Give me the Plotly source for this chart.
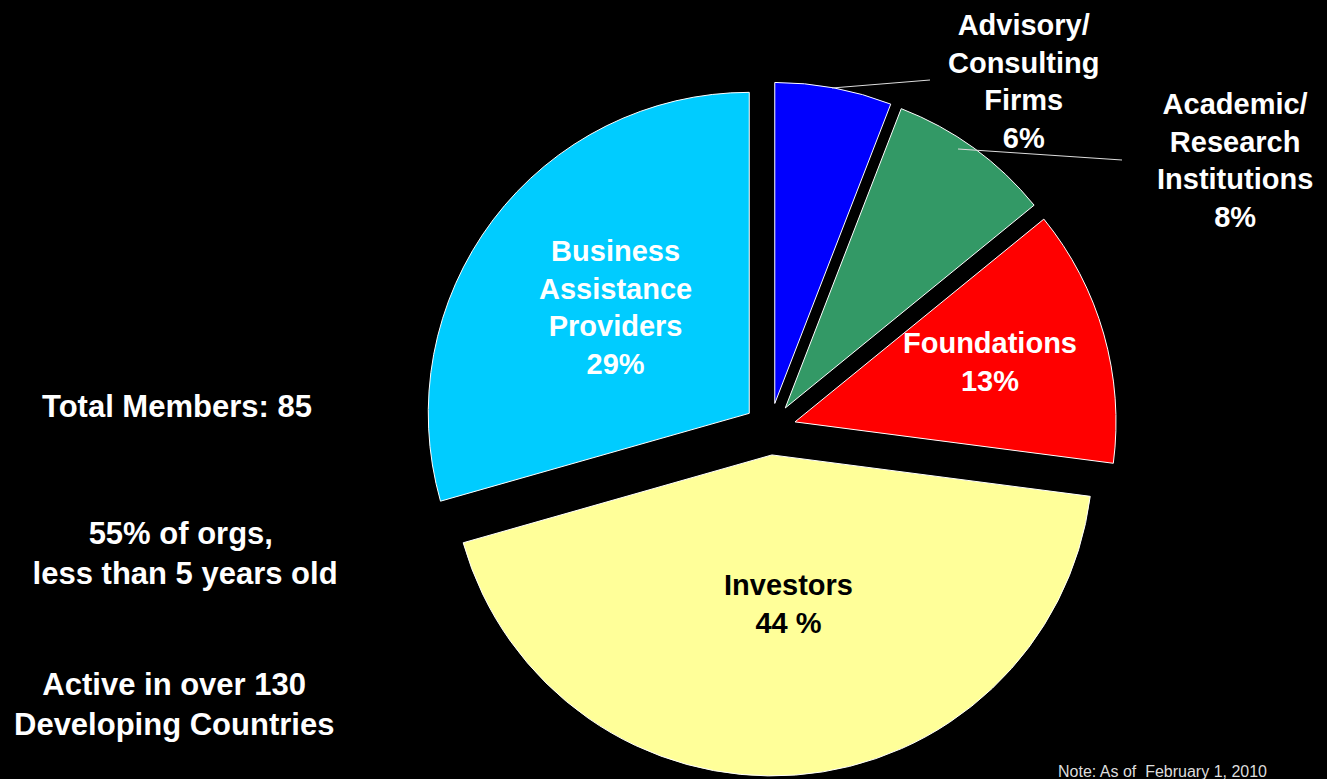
import plotly.graph_objects as go

# ---- data ----
categories = ["Advisory/<br>Consulting<br>Firms", "Academic/<br>Research<br>Institutions",
              "Foundations", "Investors", "Business<br>Assistance<br>Providers"]
members = [5, 7, 11, 37, 25]          # total 85
pct_text = ["6%", "8%", "13%", "44 %", "29%"]
slice_colors = ["#0000FF", "#339966", "#FF0000", "#FFFF99", "#00CCFF"]
label_colors = ["white", "white", "white", "black", "white"]

side_notes = ["Total Members: 85",
              "55% of orgs,<br> less than 5 years old",
              "Active in over 130<br>Developing Countries"]
footnote = "Note: As of\u00a0 February 1, 2010"

# ---- layout geometry (pixel -> paper) ----
W, H = 1327, 779
def px(x): return x / W
def py(y): return 1 - y / H

# label centres (pixels) for each slice label
label_pos = [(1023, 81.5), (1235, 160.5), (990, 362), (789, 603.5), (615, 307.5)]
side_pos = [(176.5, 406), (181, 553), (174, 704.5)]
leader_lines = [((832, 88), (930, 80)), ((958, 149), (1122, 160))]

fig = go.Figure(go.Pie(
    labels=categories,
    values=members,
    sort=False,
    direction="clockwise",
    rotation=0,
    pull=0.081,
    marker=dict(colors=slice_colors, line=dict(color="white", width=1)),
    textinfo="none",
    hoverinfo="skip",
    showlegend=False,
    domain=dict(x=[px(770 - 347), px(770 + 347)], y=[py(776), py(82)]),
))

annotations = []
for lab, pct, col, (x, y) in zip(categories, pct_text, label_colors, label_pos):
    annotations.append(dict(
        x=px(x), y=py(y), xref="paper", yref="paper",
        text=f"{lab}<br>{pct}", showarrow=False, align="center",
        xanchor="center", yanchor="middle",
        font=dict(family="Liberation Sans, Arial", size=29, color=col, weight="bold"),
    ))
for txt, (x, y) in zip(side_notes, side_pos):
    annotations.append(dict(
        x=px(x), y=py(y), xref="paper", yref="paper",
        text=txt, showarrow=False, align="center",
        xanchor="center", yanchor="middle",
        font=dict(family="Liberation Sans, Arial", size=31, color="white", weight="bold"),
    ))
annotations.append(dict(
    x=px(1162), y=py(771), xref="paper", yref="paper",
    text=footnote, showarrow=False, xanchor="center", yanchor="middle",
    font=dict(family="Liberation Sans, Arial", size=16, color="#DDDDDD"),
))

shapes = []
for (x0, y0), (x1, y1) in leader_lines:
    shapes.append(dict(type="line", xref="paper", yref="paper",
                       x0=px(x0), y0=py(y0), x1=px(x1), y1=py(y1),
                       line=dict(color="#DDDDDD", width=1)))

fig.update_layout(
    width=W, height=H,
    margin=dict(l=0, r=0, t=0, b=0),
    paper_bgcolor="black", plot_bgcolor="black",
    annotations=annotations,
    shapes=shapes,
)

fig.write_html(
    "out.html",
    config={"displayModeBar": False},
    post_script="document.body.style.margin='0';document.body.style.background='black';",
)
